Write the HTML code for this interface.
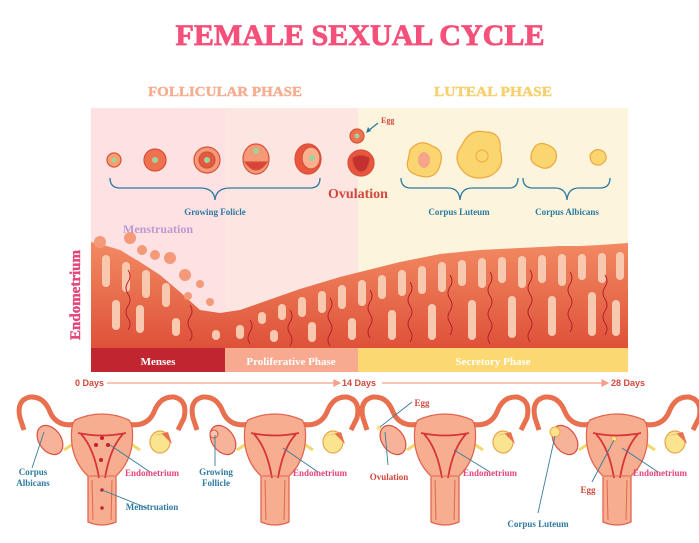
<!DOCTYPE html>
<html><head><meta charset="utf-8"><style>
html,body{margin:0;padding:0;background:#fff;width:699px;height:543px;overflow:hidden}
svg{display:block}
.s{font-family:"Liberation Serif",serif;font-weight:bold}
</style></head><body>
<svg width="699" height="543" viewBox="0 0 699 543" xmlns="http://www.w3.org/2000/svg">
<defs>
<linearGradient id="en" x1="0" y1="0" x2="0" y2="1">
<stop offset="0" stop-color="#f28a62"/><stop offset="1" stop-color="#de5139"/>
</linearGradient>
<g id="ut">
<path d="M-25,424 Q-45,428 -52,412 Q-58,396 -72,397 Q-86,400 -82,418 L-78,430" fill="none" stroke="#e8704f" stroke-width="5"/>
<path d="M25,424 Q45,428 52,412 Q58,396 72,397 Q86,400 82,418 L76,430" fill="none" stroke="#e8704f" stroke-width="5"/>
<path d="M-38,450 Q-32,446 -26,442" stroke="#f3d96b" stroke-width="3" fill="none"/>
<path d="M38,450 Q32,446 26,442" stroke="#f3d96b" stroke-width="3" fill="none"/>
<ellipse cx="-52" cy="440" rx="11" ry="16" transform="rotate(-35 -52 440)" fill="#f7b39a" stroke="#d94f3f" stroke-width="1.2"/>
<ellipse cx="58" cy="442" rx="10" ry="11" fill="#fbe48f" stroke="#e8a64a" stroke-width="1.2"/>
<path d="M50,436 L66,432 L70,444 L60,434 Z" fill="#e8704f"/>
<path d="M-27,420 Q0,408 27,420 Q32,426 30,445 Q27,464 14,476 L14,522 Q0,528 -14,522 L-14,476 Q-27,464 -30,445 Q-32,426 -27,420Z" fill="#f7ad8f" stroke="#e2674f" stroke-width="1.3"/>
<path d="M-24,433 Q0,438 24,433 M-21,434 Q-8,448 -3,478 M21,434 Q8,448 3,478" fill="none" stroke="#d6353a" stroke-width="1.8"/>
<path d="M-10,480 L-9,520 M10,480 L9,520 M-13,476 L13,476" fill="none" stroke="#e2674f" stroke-width="1"/>
</g>
</defs>

<text x="360" y="45" text-anchor="middle" class="s" font-size="30" fill="#f5507a" stroke="#f5507a" stroke-width="0.8" textLength="369" lengthAdjust="spacingAndGlyphs">FEMALE SEXUAL CYCLE</text>
<text x="225" y="96" text-anchor="middle" class="s" font-size="14" fill="#f6ad8f" stroke="#f6ad8f" stroke-width="0.4" textLength="154" lengthAdjust="spacingAndGlyphs">FOLLICULAR PHASE</text>
<text x="493" y="96" text-anchor="middle" class="s" font-size="14" fill="#f6d06d" stroke="#f6d06d" stroke-width="0.4" textLength="118" lengthAdjust="spacingAndGlyphs">LUTEAL PHASE</text>

<rect x="91" y="108" width="267" height="264" fill="#fde1e3"/>
<rect x="225" y="108" width="133" height="240" fill="#fde6e2"/>
<rect x="358" y="108" width="270" height="264" fill="#fdf4dd"/>

<g stroke="#d9503a" stroke-width="1.2">
<circle cx="114" cy="160" r="7" fill="#f7a070"/><circle cx="114" cy="160" r="2.5" fill="#9ed39b" stroke="none"/>
<circle cx="155" cy="160" r="11" fill="#ee7250"/><circle cx="155" cy="160" r="3" fill="#9ed39b" stroke="none"/>
<circle cx="207" cy="160" r="13" fill="#f59a78"/><circle cx="207" cy="160" r="8" fill="#e05a40"/><circle cx="207" cy="160" r="3" fill="#9ed39b" stroke="none"/>
<ellipse cx="256" cy="159" rx="13" ry="15" fill="#f59a78"/><path d="M245,162 Q256,178 267,162Z" fill="#d9433a"/><circle cx="256" cy="151" r="3" fill="#9ed39b" stroke="none"/>
<ellipse cx="308" cy="159" rx="13" ry="15" fill="#e9563e"/><ellipse cx="311" cy="158" rx="9" ry="11" fill="#f8b08e"/><circle cx="312" cy="158" r="3" fill="#9ed39b" stroke="none"/>
<circle cx="361" cy="163" r="13" fill="#e9563e"/><path d="M352,158 Q361,152 370,158 Q368,172 361,172 Q354,172 352,158Z" fill="#c3302d"/>
<circle cx="357" cy="136" r="7" fill="#ee7250"/><circle cx="357" cy="136" r="2.5" fill="#9ed39b" stroke="none"/>
</g>
<path d="M378,123 L368,131" stroke="#2e7aa0" stroke-width="1.3"/><path d="M366,133 L368,127 L371,131Z" fill="#2e7aa0"/>
<text x="381" y="123" class="s" font-size="8" fill="#d2473b">Egg</text>
<g fill="#fbd570" stroke="#eea83a" stroke-width="1.2">
<path d="M410,150 Q420,138 432,146 Q445,150 440,165 Q436,180 420,176 Q404,172 408,160Z"/>
<path d="M462,145 Q470,128 485,132 Q502,132 500,150 Q506,168 490,176 Q472,182 462,170 Q452,158 462,145Z"/>
<path d="M532,152 Q536,140 548,145 Q560,150 555,162 Q548,172 538,166 Q528,162 532,152Z"/>
<path d="M590,155 Q596,146 604,152 Q610,160 600,165 Q590,166 590,155Z"/>
</g>
<ellipse cx="424" cy="160" rx="6" ry="8" fill="#f7a58a"/>
<circle cx="482" cy="156" r="6" fill="none" stroke="#eea83a"/>
<g fill="none" stroke="#2e7aa0" stroke-width="1.3">
<path d="M110,178 Q110,188 120,188 L200,188 Q214,188 215,200 Q216,188 230,188 L310,188 Q320,188 320,178"/>
<path d="M401,178 Q401,188 411,188 L448,188 Q459,188 460,200 Q461,188 472,188 L509,188 Q518,188 518,178"/>
<path d="M523,178 Q523,188 533,188 L555,188 Q566,188 567,200 Q568,188 579,188 L600,188 Q610,188 610,178"/>
</g>
<text x="215" y="215" text-anchor="middle" class="s" font-size="9" fill="#2e7aa0">Growing Folicle</text>
<text x="459" y="215" text-anchor="middle" class="s" font-size="9" fill="#2e7aa0">Corpus Luteum</text>
<text x="567" y="215" text-anchor="middle" class="s" font-size="9" fill="#2e7aa0">Corpus Albicans</text>
<text x="358" y="198" text-anchor="middle" class="s" font-size="14" fill="#d2473b">Ovulation</text>
<text x="158" y="233" text-anchor="middle" class="s" font-size="12" fill="#b99ad1">Menstruation</text>

<path d="M91,242 L100,244 120,250 140,262 160,275 180,292 200,310 220,313 240,310 260,303 280,296 300,289 320,283 340,277 360,272 380,267 400,262 420,258 440,254 460,252 480,250 500,249 520,248 540,247 560,246 580,246 600,245 628,243 L628,348 L91,348Z" fill="url(#en)"/>
<g fill="#f49a78">
<circle cx="100" cy="242" r="6"/><circle cx="130" cy="238" r="6"/><circle cx="142" cy="250" r="5"/><circle cx="170" cy="258" r="6"/><circle cx="185" cy="275" r="6"/><circle cx="200" cy="284" r="4"/><circle cx="188" cy="296" r="4"/><circle cx="210" cy="302" r="4"/><circle cx="155" cy="255" r="5"/>
</g>
<g fill="#f9c9af">
<rect x="102" y="255" width="8" height="32" rx="4"/><rect x="122" y="262" width="8" height="30" rx="4"/><rect x="142" y="270" width="8" height="28" rx="4"/><rect x="162" y="283" width="8" height="24" rx="4"/>
<rect x="258" y="312" width="8" height="12" rx="4"/><rect x="278" y="304" width="8" height="16" rx="4"/><rect x="298" y="297" width="8" height="20" rx="4"/><rect x="318" y="291" width="8" height="22" rx="4"/><rect x="338" y="285" width="8" height="24" rx="4"/>
<rect x="358" y="280" width="8" height="26" rx="4"/><rect x="378" y="275" width="8" height="24" rx="4"/><rect x="398" y="270" width="8" height="26" rx="4"/><rect x="418" y="266" width="8" height="28" rx="4"/><rect x="438" y="262" width="8" height="30" rx="4"/><rect x="458" y="260" width="8" height="26" rx="4"/><rect x="478" y="258" width="8" height="30" rx="4"/><rect x="498" y="257" width="8" height="26" rx="4"/><rect x="518" y="256" width="8" height="32" rx="4"/><rect x="538" y="255" width="8" height="28" rx="4"/><rect x="558" y="254" width="8" height="32" rx="4"/><rect x="578" y="254" width="8" height="26" rx="4"/><rect x="598" y="253" width="8" height="30" rx="4"/><rect x="616" y="252" width="8" height="28" rx="4"/>
<rect x="112" y="300" width="8" height="30" rx="4"/><rect x="136" y="305" width="8" height="28" rx="4"/><rect x="172" y="318" width="8" height="18" rx="4"/><rect x="212" y="330" width="8" height="10" rx="4"/><rect x="236" y="325" width="8" height="14" rx="4"/>
<rect x="270" y="330" width="8" height="12" rx="4"/><rect x="308" y="322" width="8" height="20" rx="4"/><rect x="348" y="318" width="8" height="22" rx="4"/><rect x="388" y="310" width="8" height="30" rx="4"/><rect x="428" y="304" width="8" height="36" rx="4"/><rect x="468" y="300" width="8" height="40" rx="4"/><rect x="508" y="296" width="8" height="42" rx="4"/><rect x="548" y="296" width="8" height="40" rx="4"/><rect x="588" y="292" width="8" height="44" rx="4"/><rect x="612" y="300" width="8" height="36" rx="4"/>
</g>
<g fill="none" stroke="#b8232c" stroke-width="1">
<path d="M128,270 q4,6 0,12 q-4,6 0,12 q4,6 0,12 q-4,6 0,12 q4,6 0,12"/>
<path d="M190,305 q4,6 0,12 q-4,6 0,12 q4,6 0,12"/>
<path d="M250,320 q4,6 0,12 q-4,6 0,12"/>
<path d="M290,310 q4,6 0,12 q-4,6 0,12 q4,6 0,12"/>
<path d="M330,298 q4,6 0,12 q-4,6 0,12 q4,6 0,12 q-4,6 0,12"/>
<path d="M370,290 q4,6 0,12 q-4,6 0,12 q4,6 0,12 q-4,6 0,12"/>
<path d="M410,282 q4,6 0,12 q-4,6 0,12 q4,6 0,12 q-4,6 0,12 q4,6 0,12"/>
<path d="M450,275 q4,6 0,12 q-4,6 0,12 q4,6 0,12 q-4,6 0,12 q4,6 0,12"/>
<path d="M490,272 q4,6 0,12 q-4,6 0,12 q4,6 0,12 q-4,6 0,12 q4,6 0,12 q-4,6 0,12"/>
<path d="M530,270 q4,6 0,12 q-4,6 0,12 q4,6 0,12 q-4,6 0,12 q4,6 0,12 q-4,6 0,12"/>
<path d="M570,272 q4,6 0,12 q-4,6 0,12 q4,6 0,12 q-4,6 0,12 q4,6 0,12"/>
<path d="M605,275 q4,6 0,12 q-4,6 0,12 q4,6 0,12 q-4,6 0,12 q4,6 0,12"/>
</g>
<text transform="translate(80,295) rotate(-90)" text-anchor="middle" class="s" font-size="15" fill="#e2457a" stroke="#e2457a" stroke-width="0.4">Endometrium</text>

<rect x="91" y="348" width="134" height="24" fill="#c1252f"/>
<rect x="225" y="348" width="133" height="24" fill="#f8aa90"/>
<rect x="358" y="348" width="270" height="24" fill="#fbd872"/>
<text x="158" y="365" text-anchor="middle" class="s" font-size="11" fill="#fff">Menses</text>
<text x="291" y="365" text-anchor="middle" class="s" font-size="11" fill="#fff">Proliferative Phase</text>
<text x="493" y="365" text-anchor="middle" class="s" font-size="11" fill="#fff">Secretory Phase</text>

<g font-family="Liberation Sans, sans-serif" font-weight="bold" font-size="9" fill="#d2473b">
<text x="75" y="386">0 Days</text><text x="342" y="386">14 Days</text><text x="611" y="386">28 Days</text>
</g>
<g stroke="#f4a08a" stroke-width="1.2" fill="#f4a08a">
<line x1="107" y1="383" x2="336" y2="383"/><path d="M340,383 L334,380 L334,386Z"/>
<line x1="382" y1="383" x2="604" y2="383"/><path d="M608,383 L602,380 L602,386Z"/>
</g>

<use href="#ut" x="102"/><use href="#ut" x="275"/><use href="#ut" x="445"/><use href="#ut" x="617"/>
<g fill="#c42030"><circle cx="102" cy="438" r="2"/><circle cx="96" cy="445" r="2"/><circle cx="108" cy="445" r="2"/><circle cx="101" cy="460" r="2"/><circle cx="102" cy="490" r="1.8"/><circle cx="102" cy="508" r="1.8"/></g>
<circle cx="214" cy="434" r="4" fill="#f9c7b0" stroke="#d94f3f"/>
<circle cx="379" cy="428" r="2.5" fill="#fbe48f"/>
<circle cx="555" cy="432" r="5" fill="#fbe48f" stroke="#eea83a"/>
<circle cx="614" cy="439" r="2.5" fill="#fbe48f" stroke="#eea83a"/>
<g stroke="#3a7d98" stroke-width="0.9">
<line x1="44" y1="432" x2="32" y2="468"/><line x1="110" y1="445" x2="150" y2="472"/><line x1="102" y1="490" x2="147" y2="508"/>
<line x1="215" y1="435" x2="215" y2="466"/><line x1="283" y1="448" x2="318" y2="472"/>
<line x1="380" y1="427" x2="412" y2="402"/><line x1="385" y1="432" x2="388" y2="465"/><line x1="454" y1="450" x2="490" y2="472"/>
<line x1="555" y1="436" x2="538" y2="513"/><line x1="614" y1="440" x2="592" y2="482"/><line x1="622" y1="448" x2="658" y2="472"/>
</g>
<g class="s" font-size="9">
<text x="33" y="475" text-anchor="middle" fill="#2e7aa0">Corpus</text><text x="33" y="486" text-anchor="middle" fill="#2e7aa0">Albicans</text>
<text x="152" y="476" text-anchor="middle" fill="#e2457a">Endometrium</text>
<text x="152" y="510" text-anchor="middle" fill="#2e7aa0">Menstruation</text>
<text x="216" y="475" text-anchor="middle" fill="#2e7aa0">Growing</text><text x="216" y="486" text-anchor="middle" fill="#2e7aa0">Follicle</text>
<text x="320" y="476" text-anchor="middle" fill="#e2457a">Endometrium</text>
<text x="422" y="406" text-anchor="middle" fill="#d2473b">Egg</text>
<text x="389" y="480" text-anchor="middle" fill="#d2473b">Ovulation</text>
<text x="490" y="476" text-anchor="middle" fill="#e2457a">Endometrium</text>
<text x="538" y="527" text-anchor="middle" fill="#2e7aa0">Corpus Luteum</text>
<text x="588" y="493" text-anchor="middle" fill="#d2473b">Egg</text>
<text x="660" y="476" text-anchor="middle" fill="#e2457a">Endometrium</text>
</g>
</svg>
</body></html>
